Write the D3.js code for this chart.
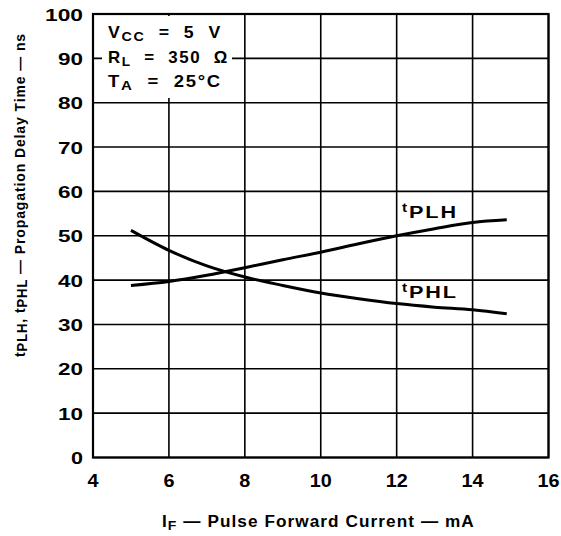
<!DOCTYPE html>
<html>
<head>
<meta charset="utf-8">
<script src="https://cdn.jsdelivr.net/npm/d3@7"></script>
<style>
  body { margin: 0; background: #fff; }
  text { font-family: "Liberation Sans", Arial, sans-serif; font-weight: bold; fill: #000; }
</style>
</head>
<body>
<div id="chart"></div>
<script>
// forward current (mA)
const current = [5, 6, 7, 8, 9, 10, 11, 12, 13, 14, 14.9];
// propagation delays (ns)
const tPLH = [38.8, 39.7, 41.1, 42.8, 44.6, 46.3, 48.2, 50.0, 51.6, 53.0, 53.6];
const tPHL = [51.2, 46.7, 43.2, 40.7, 38.8, 37.1, 35.8, 34.7, 33.9, 33.3, 32.4];
const xTicks = [4, 6, 8, 10, 12, 14, 16];
const yTicks = [0, 10, 20, 30, 40, 50, 60, 70, 80, 90, 100];

const width = 561;
const height = 536;
const margin = { top: 14, right: 12, bottom: 78, left: 93 };

const svg = d3.select('#chart')
  .append('svg')
  .attr('width', width)
  .attr('height', height);

const x = d3.scaleLinear()
  .domain([4, 16])
  .range([margin.left, width - margin.right - 0.5]);

const y = d3.scaleLinear()
  .domain([0, 100])
  .range([height - margin.bottom - 0.5, margin.top]);

// grid
svg.append('g')
  .selectAll('line')
  .data(xTicks)
  .join('line')
    .attr('x1', d => x(d)).attr('x2', d => x(d))
    .attr('y1', y(0)).attr('y2', y(100))
    .attr('stroke', '#000')
    .attr('stroke-width', 1.6);

svg.append('g')
  .selectAll('line')
  .data(yTicks)
  .join('line')
    .attr('x1', x(4)).attr('x2', x(16))
    .attr('y1', d => y(d)).attr('y2', d => y(d))
    .attr('stroke', '#000')
    .attr('stroke-width', 1.6);

// frame
svg.append('rect')
  .attr('x', x(4)).attr('y', y(100))
  .attr('width', x(16) - x(4))
  .attr('height', y(0) - y(100))
  .attr('fill', 'none')
  .attr('stroke', '#000')
  .attr('stroke-width', 2.2);

// conditions box
svg.append('rect')
  .attr('x', 102).attr('y', y(100) + 2)
  .attr('width', 130).attr('height', 82)
  .attr('fill', '#fff');

// text made of [string, dy, size] parts, fitted to a target width
function subText(transform, parts, len, ls, ws) {
  const g = svg.append('g');
  const t = g.append('text')
    .attr('letter-spacing', ls || 0)
    .attr('word-spacing', ws || 0);
  parts.forEach(([s, dy, size]) => {
    t.append('tspan')
      .attr('font-size', size)
      .attr('dy', dy)
      .text(s);
  });
  const w = t.node().getBBox().width;
  g.attr('transform', `${transform} scale(${len / w},1)`);
  return g;
}

subText('translate(108,38)', [['V', 0, 16], ['CC', 3, 13], [' = 5 V', -3, 16]], 114, 1.5, 6);
subText('translate(108,63)', [['R', 0, 16], ['L', 3, 13], [' = 350 Ω', -3, 16]], 121, 1.5, 6);
subText('translate(108,87)', [['T', 0, 16], ['A', 3, 13], [' = 25°C', -3, 16]], 114, 1.5, 6);

// curves
const line = d3.line()
  .x((d, i) => x(current[i]))
  .y(d => y(d))
  .curve(d3.curveMonotoneX);

[tPLH, tPHL].forEach(s => {
  svg.append('path')
    .datum(s)
    .attr('d', line)
    .attr('fill', 'none')
    .attr('stroke', '#000')
    .attr('stroke-width', 3);
});

subText('translate(402,218)', [['t', -6, 12], ['PLH', 6, 17]], 56, 1.5);
subText('translate(402,298)', [['t', -6, 12], ['PHL', 6, 17]], 56, 1.5);

// axes tick labels
svg.append('g')
  .attr('font-size', 18)
  .attr('text-anchor', 'middle')
  .selectAll('text')
  .data(xTicks)
  .join('text')
    .attr('x', d => x(d))
    .attr('y', 487)
    .attr('textLength', d => String(d).length * 11)
    .attr('lengthAdjust', 'spacingAndGlyphs')
    .text(d => d);

svg.append('g')
  .attr('font-size', 17)
  .attr('text-anchor', 'end')
  .selectAll('text')
  .data(yTicks)
  .join('text')
    .attr('x', 83)
    .attr('y', d => y(d) + 6.5)
    .attr('textLength', d => String(d).length * 13 - 1)
    .attr('lengthAdjust', 'spacingAndGlyphs')
    .text(d => d);

// axis titles
subText('translate(162,527)',
  [['I', 0, 16], ['F', 3, 13], [' — Pulse Forward Current — mA', -3, 16]], 313, 1, 0);

subText('translate(25,357) rotate(-90)',
  [['t', 0, 15], ['PLH', 2, 14], [', t', -2, 15], ['PHL', 2, 14],
   [' — Propagation Delay Time — ns', -2, 15]], 324, 1, 0);
</script>
</body>
</html>
